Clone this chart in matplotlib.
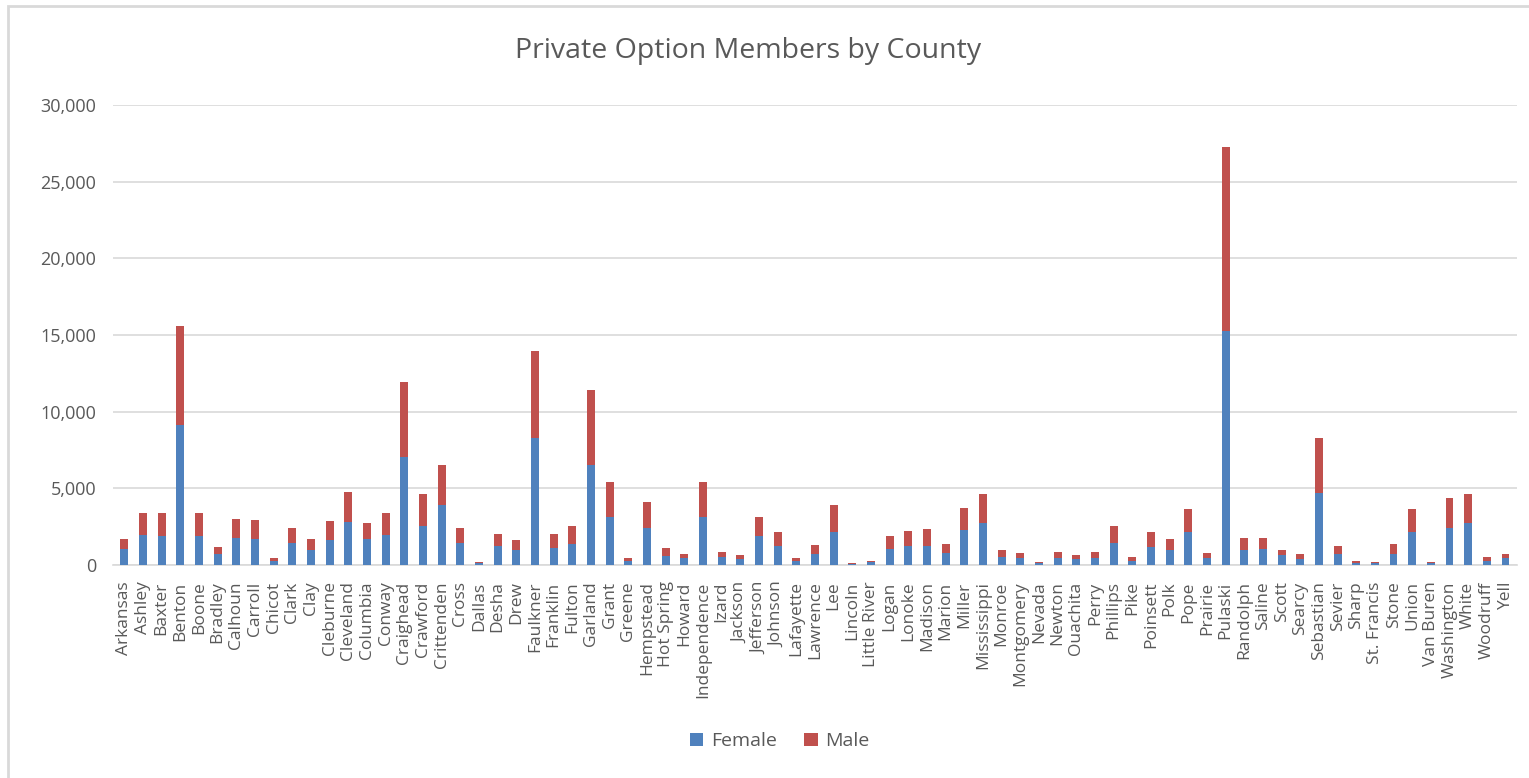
import numpy as np
import matplotlib.pyplot as plt
from matplotlib.patches import Rectangle
from matplotlib.ticker import FuncFormatter

counties = ["Arkansas", "Ashley", "Baxter", "Benton", "Boone", "Bradley", "Calhoun", "Carroll",
            "Chicot", "Clark", "Clay", "Cleburne", "Cleveland", "Columbia", "Conway", "Craighead",
            "Crawford", "Crittenden", "Cross", "Dallas", "Desha", "Drew", "Faulkner", "Franklin",
            "Fulton", "Garland", "Grant", "Greene", "Hempstead", "Hot Spring", "Howard",
            "Independence", "Izard", "Jackson", "Jefferson", "Johnson", "Lafayette", "Lawrence",
            "Lee", "Lincoln", "Little River", "Logan", "Lonoke", "Madison", "Marion", "Miller",
            "Mississippi", "Monroe", "Montgomery", "Nevada", "Newton", "Ouachita", "Perry",
            "Phillips", "Pike", "Poinsett", "Polk", "Pope", "Prairie", "Pulaski", "Randolph",
            "Saline", "Scott", "Searcy", "Sebastian", "Sevier", "Sharp", "St. Francis", "Stone",
            "Union", "Van Buren", "Washington", "White", "Woodruff", "Yell"]

female = [1020, 1935, 1850, 9110, 1850, 700, 1760, 1670,
          260, 1435, 935, 1610, 2780, 1670, 1935, 7020,
          2520, 3935, 1435, 90, 1260, 935, 8280, 1110,
          1350, 6500, 3090, 260, 2435, 590, 435,
          3090, 500, 350, 1850, 1260, 260, 700,
          2170, 30, 175, 1020, 1260, 1260, 760, 2260,
          2700, 500, 435, 90, 435, 350, 435,
          1435, 260, 1170, 935, 2170, 435, 15280, 935,
          1020, 610, 350, 4700, 700, 90, 90, 700,
          2170, 90, 2435, 2700, 260, 435]

total = [1670, 3350, 3350, 15610, 3350, 1170, 3020, 2935,
         435, 2435, 1670, 2850, 4780, 2700, 3350, 11960,
         4610, 6520, 2435, 175, 2020, 1610, 13935, 2020,
         2520, 11435, 5435, 435, 4090, 1090, 700,
         5435, 850, 610, 3110, 2170, 435, 1280,
         3935, 110, 260, 1850, 2200, 2350, 1350, 3700,
         4610, 935, 760, 175, 850, 610, 850,
         2520, 500, 2110, 1670, 3610, 760, 27260, 1760,
         1760, 935, 700, 8280, 1200, 260, 175, 1350,
         3610, 175, 4370, 4610, 500, 700]

male = [t - f for t, f in zip(total, female)]

blue = "#4F81BD"
red = "#C0504D"
grey = "#595959"

plt.rcParams["font.family"] = ["Open Sans", "DejaVu Sans"]

fig = plt.figure(figsize=(15.29, 7.78), dpi=100)
ax = fig.add_axes([0.074, 0.274, 0.918, 0.591])

x = np.arange(len(counties))
ax.bar(x, female, width=0.42, color=blue, label="Female", zorder=3)
ax.bar(x, male, width=0.42, bottom=female, color=red, label="Male", zorder=3)

ax.set_xlim(-0.6, len(counties) - 0.4)
ax.set_ylim(0, 30000)
ax.set_yticks(np.arange(0, 30001, 5000))
ax.yaxis.set_major_formatter(FuncFormatter(lambda v, p: "{:,.0f}".format(v)))
ax.grid(axis="y", color="#D9D9D9", linewidth=1.2, zorder=0)
for s in ["top", "right", "left"]:
    ax.spines[s].set_visible(False)
ax.spines["bottom"].set_color("#D9D9D9")
ax.spines["bottom"].set_linewidth(1.2)

ax.set_xticks(x)
ax.set_xticklabels(counties, rotation=90, fontsize=12.5, color=grey)
ax.tick_params(axis="x", length=0, pad=12)
ax.tick_params(axis="y", length=0, labelsize=13, colors=grey, pad=12)

fig.text(0.489, 0.935, "Private Option Members by County", ha="center", va="center",
         fontsize=20.5, color=grey)

fig.legend(loc="center", bbox_to_anchor=(0.51, 0.047), ncol=2, frameon=False,
           fontsize=14, handlelength=0.7, handleheight=0.7, handletextpad=0.4,
           columnspacing=1.4, labelcolor=grey)

fig.patches.append(Rectangle((8 / 1529, -0.05), 1.1, 1.05 - 6 / 778, transform=fig.transFigure,
                             fill=False, edgecolor="#D9D9D9", linewidth=2))

fig.savefig("out.png", dpi=100)
